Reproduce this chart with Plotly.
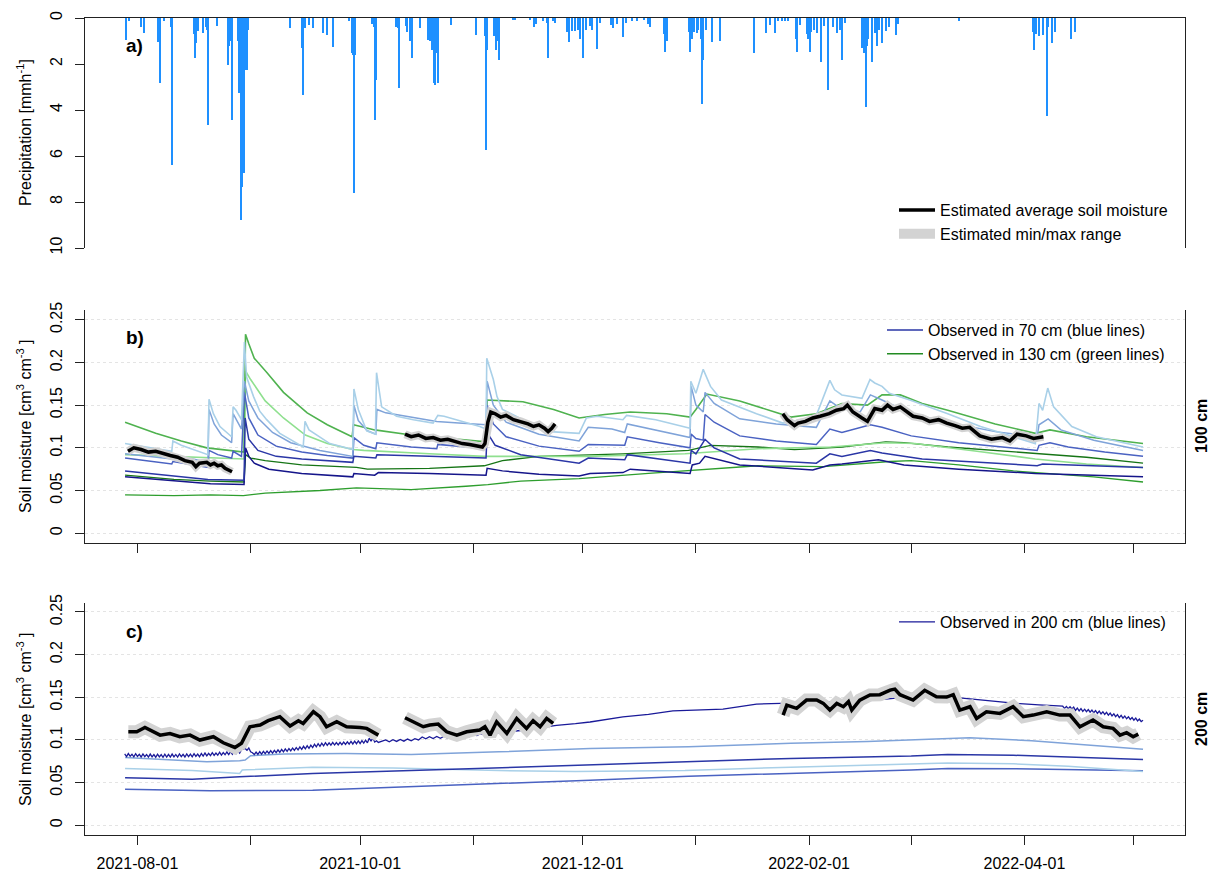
import pandas as pd
import plotly.graph_objects as go

ORIGIN = pd.Timestamp("2021-08-01")

# ---------------- data (x = days since 2021-08-01) ----------------
# precipitation [mm/h]
precip_day = [-3.2, -2.4, 0.9, 1.8, 5.7, 6.1, 7.2, 9.3, 9.6, 15.5, 15.8, 16.2, 16.6, 18.0, 18.7, 19.1, 19.4, 21.7,
              24.7, 25.2, 25.6, 25.9, 27.5, 27.8, 28.1, 28.4, 28.6, 28.8, 29.0, 29.3, 29.6, 29.9, 30.2,
              41.8, 45.2, 45.4, 45.8, 47.0, 48.0, 50.9, 52.0, 53.6, 58.0, 58.8, 59.1, 59.3, 59.6,
              64.3, 64.7, 65.0, 65.2, 65.4, 70.8, 71.3, 71.6, 73.5, 74.0, 74.6, 75.2, 77.5, 79.5, 80.3, 80.8,
              81.2, 81.6, 82.0, 82.4, 86.0, 92.9, 95.3, 95.5, 95.8, 97.6, 98.2, 98.5, 99.1,
              102.8, 103.4, 107.5, 108.7, 109.2, 111.2, 112.1, 112.5, 113.8, 114.3, 117.6, 118.2, 119.1, 119.8,
              120.6, 121.4, 122.0, 123.0, 124.0, 124.6, 125.9, 126.8, 129.8, 130.4, 131.4, 133.1, 134.0, 135.5,
              137.0, 138.8, 139.9, 140.5, 144.3, 144.6, 145.0,
              151.0, 151.4, 151.9, 152.6, 153.2, 153.7, 154.4, 154.8, 155.1, 155.9, 157.4, 159.6, 169.0, 172.2,
              173.4, 174.6, 175.5, 176.5, 177.5, 178.2,
              180.5, 180.8, 181.5, 183.4, 183.8, 184.2, 184.6, 185.3, 186.2, 187.4, 188.2, 189.3, 190.6, 191.7,
              192.4, 193.1, 194.0, 198.6, 199.0, 199.5, 199.8, 200.3, 201.4, 202.1, 202.6, 203.2, 204.0, 205.0,
              205.8, 207.8, 208.3,
              225.0, 245.3, 245.6, 246.3, 247.0, 248.0, 249.1, 249.6, 250.6, 251.5, 255.7, 256.8]
precip_mm = [0.96, 0.15, 0.38, 0.64, 1.03, 2.84, 0.12, 0.4, 6.39, 0.7, 1.75, 1.1, 0.55, 0.67, 0.4, 0.5, 4.65, 0.35,
             2.04, 1.2, 1.0, 4.43, 1.0, 3.28, 2.3, 8.78, 7.33, 5.88, 5.5, 6.75, 2.26, 2.26, 0.5,
             0.45, 1.3, 3.35, 0.45, 0.3, 0.45, 0.67, 0.74, 1.25, 0.15, 1.5, 1.6, 7.62, 1.6,
             0.25, 0.4, 1.83, 4.43, 2.7, 0.4, 0.45, 3.06, 0.35, 0.6, 1.0, 1.75, 0.45, 0.95, 1.0, 1.4,
             2.84, 2.9, 1.5, 2.84, 0.3, 0.74, 0.8, 5.74, 1.4, 0.8, 1.4, 1.0, 1.83,
             0.1, 0.1, 0.1, 0.4, 0.25, 0.15, 0.2, 1.72, 0.15, 0.2, 0.6, 1.03, 0.55, 0.55,
             0.5, 0.9, 1.72, 0.5, 0.35, 0.5, 1.35, 0.2, 0.3, 0.45, 0.25, 0.84, 0.2, 0.15,
             0.15, 0.1, 0.25, 0.4, 0.7, 1.46, 1.0,
             0.6, 1.46, 0.9, 0.6, 0.65, 0.5, 0.9, 3.75, 1.83, 0.5, 1.03, 1.0, 1.54, 0.67,
             0.3, 0.67, 0.15, 0.15, 0.15, 0.15,
             0.9, 1.46, 0.3, 0.7, 0.9, 1.46, 0.6, 0.5, 0.67, 1.9, 0.35, 3.13, 0.4, 0.67,
             0.5, 1.83, 0.2, 1.3, 1.5, 3.86, 1.2, 0.9, 1.9, 0.67, 1.22, 0.5, 1.1, 0.55,
             0.4, 0.74, 0.25,
             0.15, 0.6, 1.39, 0.7, 0.8, 0.75, 4.26, 0.4, 1.1, 0.6, 0.93, 0.6]

# panel b (100 cm) observed series: (day, value)
b_lightblue = [(-3.4, 0.105), (9.4, 0.096), (9.7, 0.108), (12, 0.103), (19.3, 0.092), (19.6, 0.157), (20.8, 0.140),
               (22.6, 0.125), (25.8, 0.113), (26.2, 0.148), (27, 0.144), (28.5, 0.133), (29.3, 0.224), (29.9, 0.183),
               (31.8, 0.160), (33.5, 0.143), (35.4, 0.133), (39, 0.117), (45.4, 0.101), (45.9, 0.131), (47, 0.121),
               (52.7, 0.105), (59, 0.098), (59.3, 0.169), (60.5, 0.145), (62.8, 0.120), (65.2, 0.116), (65.5, 0.188),
               (66.9, 0.148), (71, 0.137), (75.6, 0.133), (81, 0.129), (82.3, 0.138), (84, 0.137), (93.8, 0.125),
               (95.5, 0.122), (95.7, 0.205), (97.5, 0.180), (98.5, 0.160), (100, 0.145), (105.6, 0.133), (113, 0.119),
               (121, 0.117), (123, 0.135), (126, 0.137), (133, 0.133), (134, 0.138), (142, 0.133), (151.4, 0.123),
               (151.6, 0.178), (153, 0.164), (155, 0.192), (157, 0.172), (160, 0.156), (169.6, 0.140), (176.8, 0.129),
               (182, 0.133), (186, 0.138), (189.7, 0.179), (191, 0.168), (193, 0.162), (198.5, 0.158), (200.7, 0.180),
               (202, 0.176), (204, 0.172), (206, 0.164), (211.6, 0.156), (222, 0.140), (231, 0.125), (241.8, 0.110),
               (246, 0.105), (247, 0.152), (248, 0.144), (249.4, 0.170), (251, 0.148), (256, 0.125), (262.7, 0.113),
               (275.5, 0.101)]
b_steelblue = [(-3.4, 0.093), (9.4, 0.087), (9.7, 0.092), (19.3, 0.083), (19.6, 0.145), (21, 0.128), (23, 0.115),
               (25.8, 0.106), (26.2, 0.140), (28.5, 0.122), (29.3, 0.178), (30.5, 0.155), (33, 0.135), (37, 0.118),
               (42, 0.106), (50, 0.097), (59, 0.090), (59.3, 0.150), (60.5, 0.132), (63, 0.120), (65.3, 0.116),
               (65.6, 0.145), (68, 0.141), (75, 0.136), (82, 0.131), (88, 0.129), (95.5, 0.127), (95.8, 0.178),
               (97.5, 0.150), (101, 0.130), (110, 0.116), (121, 0.108), (123.5, 0.124), (130, 0.122), (133.5, 0.118),
               (134.2, 0.128), (143, 0.120), (151.4, 0.112), (151.7, 0.172), (153, 0.150), (155, 0.142), (155.5, 0.165),
               (158, 0.152), (165, 0.134), (175, 0.128), (186, 0.124), (189.7, 0.155), (192, 0.148), (198, 0.142),
               (200.8, 0.162), (204, 0.156), (212, 0.140), (222, 0.130), (235, 0.119), (246.5, 0.113), (247, 0.127),
               (249.5, 0.134), (253, 0.121), (262, 0.109), (275.5, 0.097)]
b_royalblue = [(-3.4, 0.088), (9.4, 0.081), (9.7, 0.084), (19.3, 0.077), (19.6, 0.097), (22, 0.092), (25.8, 0.088),
               (26.2, 0.096), (28.5, 0.090), (29.3, 0.165), (30.5, 0.135), (33, 0.115), (38, 0.102), (45, 0.095),
               (52, 0.091), (59, 0.088), (59.3, 0.112), (62, 0.103), (65.3, 0.099), (65.6, 0.106), (75, 0.101),
               (82, 0.099), (82.3, 0.104), (90, 0.101), (95.5, 0.099), (95.8, 0.150), (97.5, 0.128), (101, 0.113),
               (110, 0.102), (121, 0.096), (123.5, 0.104), (133.5, 0.103), (134.2, 0.113), (143, 0.106), (151.4, 0.100),
               (151.7, 0.116), (153, 0.111), (155, 0.109), (155.5, 0.139), (158, 0.130), (165, 0.114), (175, 0.108),
               (186, 0.104), (189.7, 0.122), (193, 0.118), (200.8, 0.127), (204, 0.124), (212, 0.114), (225, 0.106),
               (246.5, 0.097), (247, 0.103), (250, 0.106), (255, 0.101), (265, 0.095), (275.5, 0.090)]
b_mediumblue = [(-3.4, 0.073), (9.4, 0.067), (19.3, 0.063), (29.2, 0.062), (29.5, 0.135), (30.5, 0.110), (33, 0.097),
                (38, 0.090), (45, 0.087), (59, 0.083), (59.3, 0.090), (65.3, 0.088), (65.6, 0.092), (80, 0.090),
                (95.5, 0.088), (95.8, 0.118), (98, 0.103), (105, 0.092), (121, 0.082), (123.5, 0.088), (133.5, 0.086),
                (134.2, 0.092), (151.4, 0.082), (151.7, 0.097), (153, 0.093), (155.5, 0.110), (158, 0.100), (165, 0.087),
                (186, 0.082), (189.7, 0.093), (193, 0.090), (200.8, 0.097), (204, 0.094), (215, 0.087), (235, 0.082),
                (246.5, 0.079), (248, 0.081), (260, 0.079), (275.5, 0.077)]
b_navy = [(-3.4, 0.066), (10, 0.061), (20, 0.058), (29.2, 0.057), (29.6, 0.100), (30.5, 0.090), (32, 0.082), (36, 0.075),
          (45, 0.070), (59, 0.066), (59.3, 0.070), (65, 0.068), (66, 0.071), (80, 0.070), (95.5, 0.068), (95.8, 0.076),
          (100, 0.073), (110, 0.069), (121, 0.067), (124, 0.070), (133, 0.071), (135, 0.075), (151.4, 0.070),
          (152, 0.080), (154, 0.082), (155.5, 0.090), (160, 0.085), (165, 0.080), (185, 0.074), (189.7, 0.080),
          (193, 0.081), (200.7, 0.085), (203, 0.086), (210, 0.080), (225, 0.075), (246, 0.070), (260, 0.068),
          (275.5, 0.066)]
b_green = [(-3.4, 0.130), (5, 0.117), (12, 0.108), (19, 0.100), (29.2, 0.095), (29.6, 0.233), (30.5, 0.222), (32, 0.205),
           (35.5, 0.188), (40, 0.165), (46.5, 0.141), (52, 0.127), (58.8, 0.113), (59.2, 0.127), (65, 0.121), (75, 0.115),
           (88, 0.110), (95.5, 0.107), (95.8, 0.156), (105.6, 0.154), (114, 0.145), (121, 0.135), (128, 0.139),
           (135, 0.142), (145, 0.140), (151.4, 0.136), (153, 0.145), (156, 0.163), (165, 0.155), (179, 0.136),
           (186, 0.140), (193, 0.152), (200, 0.150), (204, 0.162), (209, 0.162), (215, 0.152), (222, 0.144),
           (235, 0.128), (246, 0.117), (250, 0.121), (260, 0.113), (275.5, 0.105)]
b_lightgreen = [(-3.4, 0.092), (10, 0.090), (19, 0.088), (29.2, 0.087), (29.6, 0.190), (31, 0.180), (35, 0.155), (40, 0.135),
                (46, 0.115), (52, 0.105), (59, 0.098), (62, 0.097), (80, 0.093), (95, 0.090), (123, 0.090), (150, 0.093),
                (170, 0.099), (190, 0.101), (205, 0.106), (213, 0.105), (230, 0.096), (246, 0.087), (260, 0.081),
                (275.5, 0.077)]
b_darkgreen = [(-3.4, 0.068), (10, 0.063), (20, 0.061), (29.2, 0.060), (29.6, 0.092), (31, 0.088), (35, 0.085), (45, 0.080),
               (60, 0.077), (63, 0.075), (80, 0.076), (95, 0.079), (100, 0.085), (110, 0.090), (133, 0.093), (151, 0.097),
               (157, 0.103), (170, 0.101), (180, 0.098), (193, 0.101), (205, 0.107), (210, 0.106), (222, 0.101),
               (240, 0.095), (248, 0.093), (260, 0.089), (275.5, 0.082)]
b_forestgreen = [(-3.4, 0.045), (10, 0.044), (20, 0.045), (29, 0.044), (35, 0.047), (50, 0.050), (60, 0.053), (75, 0.051),
                 (90, 0.055), (96, 0.057), (105, 0.061), (121, 0.064), (140, 0.070), (151, 0.073), (170, 0.079),
                 (188, 0.078), (206, 0.084), (212, 0.085), (225, 0.080), (240, 0.073), (250, 0.070), (262, 0.066),
                 (275.5, 0.060)]
# panel b estimated average (three segments)
b_est_1 = [(-2.6, 0.096), (-1, 0.100), (1, 0.098), (3, 0.095), (5, 0.096), (7, 0.093), (9, 0.091), (11, 0.089),
           (13, 0.085), (15, 0.083), (16, 0.078), (17, 0.082), (19, 0.083), (20, 0.080), (21, 0.082), (22, 0.079),
           (23, 0.080), (24, 0.076), (25.9, 0.072)]
b_est_2 = [(73.3, 0.116), (75, 0.113), (77, 0.115), (79, 0.111), (81, 0.112), (83, 0.109), (85, 0.110), (87, 0.107),
           (89, 0.105), (91, 0.104), (93, 0.102), (94.5, 0.101), (95.2, 0.105), (96, 0.130), (96.8, 0.142), (98, 0.140),
           (99.5, 0.136), (101, 0.138), (103, 0.133), (105, 0.131), (107, 0.128), (108.5, 0.125), (110, 0.127),
           (111.5, 0.123), (112.5, 0.119), (113.5, 0.123), (114.4, 0.128)]
b_est_3 = [(176.8, 0.140), (178, 0.133), (180, 0.126), (181, 0.129), (183, 0.131), (185, 0.135), (187, 0.137),
           (189.5, 0.140), (191.5, 0.144), (193.5, 0.146), (194.5, 0.150), (196, 0.142), (198.5, 0.135), (200, 0.131),
           (202, 0.146), (204, 0.144), (205.5, 0.150), (207, 0.145), (209, 0.148), (211, 0.141), (212.5, 0.137),
           (215, 0.135), (217, 0.131), (219.5, 0.133), (221.7, 0.129), (224, 0.126), (226, 0.123), (228, 0.124),
           (230.8, 0.114), (234, 0.110), (237, 0.112), (239, 0.108), (241, 0.116), (243.5, 0.114), (245.5, 0.111),
           (248.2, 0.113)]

# panel c (200 cm) observed series
c_navy_jag1_start, c_navy_jag1_step = -3.5, 0.5
c_navy_jag1 = [0.0835, 0.0805, 0.0840, 0.0808, 0.0832, 0.0802, 0.0838, 0.0806,
               0.0830, 0.0800, 0.0836, 0.0803, 0.0829, 0.0798, 0.0834, 0.0801,
               0.0828, 0.0797, 0.0833, 0.0800, 0.0827, 0.0796, 0.0832, 0.0799,
               0.0830, 0.0798, 0.0834, 0.0801, 0.0829, 0.0799, 0.0835, 0.0803,
               0.0831, 0.0800, 0.0836, 0.0804, 0.0833, 0.0802, 0.0838, 0.0806,
               0.0834, 0.0803, 0.0840, 0.0810, 0.0846, 0.0812, 0.0842, 0.0815,
               0.0850, 0.0818, 0.0846, 0.0820, 0.0855, 0.0822, 0.0851, 0.0826,
               0.0858, 0.0828, 0.0862, 0.0832, 0.0866, 0.0838, 0.0870, 0.0845,
               0.0885, 0.0892, 0.0900, 0.0878, 0.0905, 0.0860, 0.0850, 0.0828,
               0.0858, 0.0830, 0.0862, 0.0834, 0.0866, 0.0838, 0.0870, 0.0842,
               0.0874, 0.0845, 0.0878, 0.0850, 0.0884, 0.0855, 0.0889, 0.0860,
               0.0894, 0.0866, 0.0899, 0.0872, 0.0905, 0.0878, 0.0911, 0.0884,
               0.0918, 0.0890, 0.0925, 0.0896, 0.0931, 0.0902, 0.0938, 0.0910,
               0.0950, 0.0918, 0.0955, 0.0925, 0.0962, 0.0930, 0.0968, 0.0935,
               0.0966, 0.0938, 0.0970, 0.0940, 0.0968, 0.0942, 0.0972, 0.0945,
               0.0975, 0.0948, 0.0978, 0.0950, 0.0982, 0.0952, 0.0985, 0.0955,
               0.0988, 0.0958, 0.0992, 0.0962, 0.0996, 0.0965, 0.1020, 0.0985,
               0.1025, 0.0975, 0.0990, 0.0970]
c_navy_jag2_start, c_navy_jag2_step = 67.0, 1.0
c_navy_jag2 = [0.0985, 0.1000, 0.0978, 0.1003, 0.0982, 0.1006, 0.0985, 0.1010, 0.0990, 0.1015, 0.1000, 0.1035,
               0.1012, 0.1038, 0.1015, 0.1040, 0.1018, 0.1043, 0.1020, 0.1040, 0.1022, 0.1045, 0.1025, 0.1050,
               0.1040, 0.1062, 0.1050, 0.1072, 0.1060]
c_navy_smooth = [(97, 0.1076), (105, 0.111), (114.8, 0.117), (120, 0.119), (124, 0.121), (133, 0.127), (140, 0.130),
                 (146.7, 0.134), (155, 0.135), (160.4, 0.136), (165, 0.139), (169.6, 0.142), (178.8, 0.143),
                 (190, 0.144), (197, 0.145), (203, 0.147), (209, 0.149), (212.5, 0.151), (220, 0.150), (226, 0.149),
                 (233, 0.146), (240, 0.143), (247, 0.141), (253, 0.139)]
c_navy_jag3_start, c_navy_jag3_step = 253.5, 0.5
c_navy_jag3 = [0.1395, 0.1370, 0.1392, 0.1366, 0.1388, 0.1362, 0.1384,
               0.1345, 0.1372, 0.1340, 0.1366, 0.1335, 0.1360, 0.1330, 0.1355,
               0.1325, 0.1350, 0.1318, 0.1344, 0.1312, 0.1338, 0.1305, 0.1330,
               0.1298, 0.1322, 0.1290, 0.1314, 0.1282, 0.1306, 0.1272, 0.1296,
               0.1262, 0.1288, 0.1255, 0.1280, 0.1248, 0.1272, 0.1240, 0.1262,
               0.1232, 0.1255, 0.1222, 0.1245, 0.1215, 0.1230]
c_steelblue = [(-3.4, 0.0793), (10, 0.0765), (19, 0.0745), (28, 0.0755), (29.5, 0.0763), (31, 0.0815), (40, 0.0835),
               (57, 0.0840), (75, 0.0830), (99, 0.0860), (105, 0.0870), (124, 0.0900), (151, 0.0920), (179, 0.0960),
               (200, 0.0980), (212, 0.1000), (228, 0.1025), (245, 0.0990), (260, 0.0940), (275.5, 0.0890)]
c_lightblue = [(-3.4, 0.0665), (15, 0.0640), (28, 0.0607), (28.7, 0.0646), (30, 0.0650), (48, 0.0680), (70, 0.0670),
               (99, 0.0640), (120, 0.0630), (150, 0.0640), (179, 0.0680), (212, 0.0720), (222, 0.0730), (240, 0.0720),
               (255, 0.0690), (275.5, 0.0630)]
c_mediumblue = [(-3.4, 0.0557), (15, 0.0540), (28, 0.0567), (48, 0.0607), (75, 0.0640), (97, 0.0670), (124, 0.0705),
                (151, 0.0745), (179, 0.0783), (212, 0.0810), (222, 0.0830), (240, 0.0820), (275.5, 0.0771)]
c_royalblue = [(-3.4, 0.0420), (20, 0.0403), (48, 0.0410), (75, 0.0450), (99, 0.0489), (124, 0.0528), (151, 0.0575),
               (179, 0.0607), (212, 0.0646), (222, 0.0665), (245, 0.0660), (275.5, 0.0638)]
# panel c estimated average
c_est_1 = [(-2.5, 0.1095), (-0.2, 0.1095), (2.05, 0.1145), (4, 0.1100), (6.2, 0.1056), (8.9, 0.1075), (11.6, 0.1037),
           (14.4, 0.1056), (17.1, 0.0998), (20.8, 0.1037), (23.5, 0.0966), (26.7, 0.0911), (28.5, 0.0960),
           (30.8, 0.1154), (33.6, 0.1174), (35.8, 0.1225), (39, 0.1272), (41.8, 0.1163), (44.1, 0.1225),
           (45.4, 0.1193), (48.2, 0.1330), (50, 0.1272), (51.8, 0.1154), (54.6, 0.1213), (57.3, 0.1154),
           (61, 0.1146), (62.8, 0.1135), (66, 0.1056)]
c_est_2 = [(73.3, 0.1260), (75.6, 0.1212), (78.3, 0.1154), (80.1, 0.1174), (82.4, 0.1185), (84.7, 0.1095),
           (87.5, 0.1056), (90.2, 0.1095), (93.8, 0.1115), (95.2, 0.1154), (96.6, 0.1056), (98.4, 0.1212),
           (101.2, 0.1076), (103.9, 0.1252), (106.6, 0.1135), (108.4, 0.1225), (110.3, 0.1154), (112.1, 0.1252),
           (113.9, 0.1193)]
c_est_3 = [(176.9, 0.1291), (177.9, 0.1408), (180.6, 0.1370), (183.3, 0.1467), (186.1, 0.1467), (187.9, 0.1428),
           (189.7, 0.1350), (191.6, 0.1428), (193.4, 0.1389), (194.8, 0.1448), (195.7, 0.1350), (197.9, 0.1467),
           (200.7, 0.1526), (203.4, 0.1530), (206.2, 0.1584), (207.5, 0.1596), (208.9, 0.1530), (212.5, 0.1467),
           (215.7, 0.1581), (218.9, 0.1506), (221.7, 0.1502), (223.5, 0.1530), (225.3, 0.1350), (228.1, 0.1389),
           (229.9, 0.1252), (232.6, 0.1330), (236.3, 0.1311), (239.9, 0.1389), (242.7, 0.1272), (245.4, 0.1291),
           (249.1, 0.1330), (252.7, 0.1291), (255.5, 0.1291), (258.2, 0.1154), (261.8, 0.1233), (264.6, 0.1154),
           (267.3, 0.1135), (269.2, 0.1056), (271.0, 0.1084), (272.8, 0.1037), (274.2, 0.1068)]

# axis ticks
label_ticks = ["2021-08-01", "2021-10-01", "2021-12-01", "2022-02-01", "2022-04-01"]
month_tick0 = "2021-08-01"
precip_ticks = [0, 2, 4, 6, 8, 10]
sm_ticks = [0, 0.05, 0.1, 0.15, 0.2, 0.25]
sm_labels = ["0", "0.05", "0.1", "0.15", "0.2", "0.25"]


# ---------------- helpers ----------------
def to_date(d):
    return ORIGIN + pd.Timedelta(days=float(d))


def xy(pairs):
    return [to_date(d) for d, _ in pairs], [v for _, v in pairs]


def xy_segments(segs):
    xs, ys = [], []
    for s in segs:
        x, y = xy(s)
        xs += x + [None]
        ys += y + [None]
    return xs, ys


def regular(start, step, vals):
    return [to_date(start + step * i) for i in range(len(vals))], list(vals)


FONT = "Liberation Sans, Arial, sans-serif"
fig = go.Figure()

# ---- panel a: precipitation ----
fig.add_trace(go.Bar(x=[to_date(d) for d in precip_day], y=precip_mm, width=0.33 * 86400000,
                     marker=dict(color="#1E90FF", line=dict(width=0)), xaxis="x", yaxis="y",
                     showlegend=False, hoverinfo="skip"))

# ---- panel b ----
b_series = [
    (b_forestgreen, "#2e9e2e", 1.3), (b_darkgreen, "#167516", 1.3), (b_lightgreen, "#8fe08f", 1.6),
    (b_green, "#4fb24f", 1.6), (b_navy, "#15158a", 1.5), (b_royalblue, "#4a62c2", 1.5),
    (b_steelblue, "#7fa3d9", 1.5), (b_lightblue, "#a9d0e8", 1.6),
]
for pairs, col, w in b_series:
    x, y = xy(pairs)
    fig.add_trace(go.Scatter(x=x, y=y, mode="lines", line=dict(color=col, width=w),
                             xaxis="x2", yaxis="y2", showlegend=False, hoverinfo="skip"))
x, y = xy(b_mediumblue)
fig.add_trace(go.Scatter(x=x, y=y, mode="lines", line=dict(color="#2a36a6", width=1.5), xaxis="x2", yaxis="y2",
                         name="Observed in 70 cm (blue lines)", legend="legend2", legendrank=1))
fig.add_trace(go.Scatter(x=[None], y=[None], mode="lines", line=dict(color="#228B22", width=1.5), xaxis="x2",
                         yaxis="y2", name="Observed in 130 cm (green lines)", legend="legend2", legendrank=2))
bx, by = xy_segments([b_est_1, b_est_2, b_est_3])
fig.add_trace(go.Scatter(x=bx, y=by, mode="lines", line=dict(color="#d2d2d2", width=8), xaxis="x2", yaxis="y2",
                         showlegend=False, hoverinfo="skip"))
fig.add_trace(go.Scatter(x=bx, y=by, mode="lines", line=dict(color="black", width=3.5), xaxis="x2", yaxis="y2",
                         name="Estimated average soil moisture", legend="legend", legendrank=1))

# ---- panel c ----
c_series = [(c_royalblue, "#4a62c2"), (c_lightblue, "#a9d0e8"), (c_mediumblue, "#2a36a6"), (c_steelblue, "#7fa3d9")]
for pairs, col in c_series:
    x, y = xy(pairs)
    fig.add_trace(go.Scatter(x=x, y=y, mode="lines", line=dict(color=col, width=1.5),
                             xaxis="x3", yaxis="y3", showlegend=False, hoverinfo="skip"))
x1, y1 = regular(c_navy_jag1_start, c_navy_jag1_step, c_navy_jag1)
x2, y2 = regular(c_navy_jag2_start, c_navy_jag2_step, c_navy_jag2)
x3, y3 = xy(c_navy_smooth)
x4, y4 = regular(c_navy_jag3_start, c_navy_jag3_step, c_navy_jag3)
fig.add_trace(go.Scatter(x=x1 + x2 + x3 + x4, y=y1 + y2 + y3 + y4, mode="lines",
                         line=dict(color="#1a1a99", width=1.3), xaxis="x3", yaxis="y3",
                         name="Observed in 200 cm (blue lines)", legend="legend3"))
cx_, cy_ = xy_segments([c_est_1, c_est_2, c_est_3])
fig.add_trace(go.Scatter(x=cx_, y=cy_, mode="lines", line=dict(color="#d3d3d3", width=13), xaxis="x3", yaxis="y3",
                         name="Estimated min/max range", legend="legend", legendrank=2))
fig.add_trace(go.Scatter(x=cx_, y=cy_, mode="lines", line=dict(color="black", width=3.5), xaxis="x3", yaxis="y3",
                         showlegend=False, hoverinfo="skip"))

# ---------------- layout ----------------
W, H = 1211, 873
xdom = [85 / W, 1185 / W]
xrange = ["2021-07-17 15:00", "2022-05-15 00:00"]


def ydom(top_px, bot_px):
    return [1 - bot_px / H, 1 - top_px / H]


axis_common = dict(linecolor="#222", linewidth=1.3, tickcolor="#222", tickwidth=1.3, ticklen=9,
                   tickfont=dict(size=16, color="black", family=FONT), zeroline=False, automargin=False)
minor_month = dict(tick0=month_tick0, dtick="M1", ticks="outside", ticklen=9, tickwidth=1.3, tickcolor="#222",
                   showgrid=False)
grid = dict(showgrid=True, gridcolor="#e4e4e4", griddash="dot", gridwidth=1)
leg = dict(xanchor="left", yanchor="top", bgcolor="rgba(0,0,0,0)", font=dict(size=16), tracegroupgap=0,
           itemwidth=36)

fig.update_layout(
    width=W, height=H, margin=dict(l=0, r=0, t=0, b=0, pad=0, autoexpand=False),
    paper_bgcolor="white", plot_bgcolor="white",
    font=dict(family=FONT, size=16, color="black"),
    xaxis=dict(domain=xdom, anchor="y", range=xrange, type="date", side="top", showline=True,
               ticks="", showticklabels=False, showgrid=False, zeroline=False, linecolor="#222", linewidth=1.3,
               automargin=False),
    yaxis=dict(domain=ydom(18, 248), anchor="x", range=[10, 0], tickvals=precip_ticks, ticks="outside",
               showline=True, mirror=True, tickangle=-90, showgrid=False, ticklabelstandoff=6, **axis_common),
    xaxis2=dict(domain=xdom, anchor="y2", range=xrange, type="date", matches="x", showline=True, ticks="outside",
                tickvals=label_ticks, showticklabels=False, showgrid=False, minor=minor_month, **axis_common),
    yaxis2=dict(domain=ydom(310, 543), anchor="x2", range=[-0.0115, 0.2615], tickvals=sm_ticks, ticktext=sm_labels,
                ticks="outside", showline=True, mirror=True, tickangle=-90, ticklabelstandoff=6,
                **grid, **axis_common),
    xaxis3=dict(domain=xdom, anchor="y3", range=xrange, type="date", matches="x", showline=True, ticks="outside",
                tickvals=label_ticks, ticktext=label_ticks, tickangle=0, showgrid=False, ticklabelstandoff=5,
                minor=minor_month, **axis_common),
    yaxis3=dict(domain=ydom(603, 835), anchor="x3", range=[-0.0115, 0.2605], tickvals=sm_ticks, ticktext=sm_labels,
                ticks="outside", showline=True, mirror=True, tickangle=-90, ticklabelstandoff=6,
                **grid, **axis_common),
    legend=dict(x=894 / W, y=1 - 193 / H, **leg),
    legend2=dict(x=882 / W, y=1 - 313 / H, **leg),
    legend3=dict(x=894 / W, y=1 - 605 / H, **leg),
    bargap=0,
)

ann = []
# panel tags
for txt, ypx in [("a)", 45), ("b)", 338), ("c)", 631)]:
    ann.append(dict(text=f"<b>{txt}</b>", x=124 / W, y=1 - ypx / H, xref="paper", yref="paper",
                    xanchor="left", yanchor="middle", showarrow=False, font=dict(size=19)))
# y titles
for txt, ypx in [("Precipitation [mmh<sup>-1</sup>]", 133),
                 ("Soil moisture [cm<sup>3</sup> cm<sup>-3</sup> ]", 426),
                 ("Soil moisture [cm<sup>3</sup> cm<sup>-3</sup> ]", 719)]:
    ann.append(dict(text=txt, x=24 / W, y=1 - ypx / H, xref="paper", yref="paper", textangle=-90,
                    xanchor="center", yanchor="middle", showarrow=False, font=dict(size=16)))
# right depth labels
for txt, ypx in [("100 cm", 426), ("200 cm", 719)]:
    ann.append(dict(text=f"<b>{txt}</b>", x=1201 / W, y=1 - ypx / H, xref="paper", yref="paper", textangle=-90,
                    xanchor="center", yanchor="middle", showarrow=False, font=dict(size=16)))
fig.update_layout(annotations=ann)

fig.write_html("out.html", config={"displayModeBar": False},
               post_script="document.body.style.margin='0px';")
